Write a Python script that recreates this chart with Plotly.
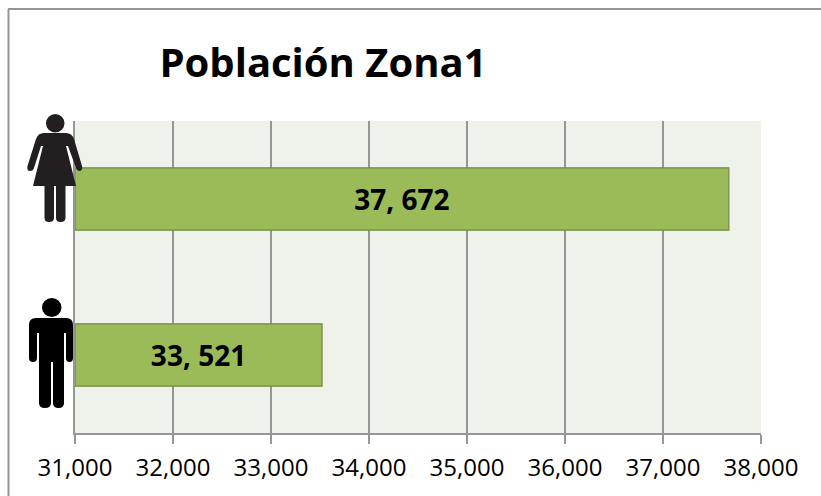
import plotly.graph_objects as go

W, H = 821, 496
L, R, T, B = 75, 60, 121, 63

categories = ["Hombres", "Mujeres"]
values = [33521, 37672]
value_labels = ["33, 521", "37, 672"]
axis_min = 31000
axis_max = 38000
tick_values = [31000, 32000, 33000, 34000, 35000, 36000, 37000, 38000]
tick_labels = ["31,000", "32,000", "33,000", "34,000", "35,000", "36,000", "37,000", "38,000"]
title_text = "Población Zona1"

GRAY = "#969696"
FONT = "Open Sans, sans-serif"


def px(x):
    return (x - L) / (W - L - R)


def py(y):
    return (H - B - y) / (H - T - B)


def path(points):
    out = []
    for p in points:
        cmd, coords = p[0], p[1:]
        vals = []
        for i in range(0, len(coords), 2):
            vals.append(f"{px(coords[i]):.5f},{py(coords[i + 1]):.5f}")
        out.append(cmd + " " + " ".join(vals))
    return " ".join(out) + " Z"


woman = [("M", 44, 133), ("L", 66, 133), ("Q", 72, 133, 74, 139), ("L", 82, 166), ("Q", 83, 171, 79, 171),
         ("Q", 77, 171, 76, 168), ("L", 68, 146), ("L", 66, 146), ("L", 76, 186), ("L", 65.5, 186),
         ("L", 65.5, 218), ("Q", 65.5, 222, 60.5, 222), ("Q", 56, 222, 56, 218), ("L", 56, 186), ("L", 54, 186),
         ("L", 54, 218), ("Q", 54, 222, 49, 222), ("Q", 44.5, 222, 44.5, 218), ("L", 44.5, 186), ("L", 33, 186),
         ("L", 43, 146), ("L", 41, 146), ("L", 34, 168), ("Q", 33, 171, 30, 171), ("Q", 26.5, 171, 27.5, 166),
         ("L", 36, 139), ("Q", 38, 133, 44, 133)]
man = [("M", 36, 318), ("L", 66, 318), ("Q", 73, 318, 73, 325), ("L", 73, 358), ("Q", 73, 362, 69.5, 362),
       ("Q", 66, 362, 66, 358), ("L", 66, 333), ("L", 64, 333), ("L", 64, 403), ("Q", 64, 408, 58.5, 408),
       ("Q", 53, 408, 53, 403), ("L", 53, 362), ("L", 51, 362), ("L", 51, 403), ("Q", 51, 408, 45, 408),
       ("Q", 39, 408, 39, 403), ("L", 39, 333), ("L", 37, 333), ("L", 37, 358), ("Q", 37, 362, 33, 362),
       ("Q", 29, 362, 29, 358), ("L", 29, 325), ("Q", 29, 318, 36, 318)]

shapes = [
    dict(type="line", xref="paper", yref="paper", x0=px(8.5), x1=px(8.5), y0=py(9), y1=py(496),
         line=dict(color=GRAY, width=2)),
    dict(type="line", xref="paper", yref="paper", x0=px(8), x1=px(821), y0=py(9), y1=py(9),
         line=dict(color=GRAY, width=2)),
    dict(type="path", xref="paper", yref="paper", path=path(woman), fillcolor="#231f20", line=dict(width=0)),
    dict(type="circle", xref="paper", yref="paper", x0=px(46), x1=px(64.5), y0=py(114), y1=py(132.5),
         fillcolor="#231f20", line=dict(width=0)),
    dict(type="path", xref="paper", yref="paper", path=path(man), fillcolor="#000000", line=dict(width=0)),
    dict(type="circle", xref="paper", yref="paper", x0=px(42), x1=px(61.5), y0=py(298), y1=py(317),
         fillcolor="#000000", line=dict(width=0)),
]

fig = go.Figure(go.Bar(
    y=categories,
    x=[v - axis_min for v in values],
    base=[axis_min] * len(values),
    orientation="h",
    width=0.40,
    marker=dict(color="#9bbb59", line=dict(color="#71893f", width=1.2)),
    text=value_labels,
    textposition="inside",
    insidetextanchor="middle",
    textangle=0,
    textfont=dict(family=FONT, size=28, color="black", weight="bold"),
    hoverinfo="skip",
))

fig.update_layout(
    width=W,
    height=H,
    autosize=False,
    margin=dict(l=L, r=R, t=T, b=B, pad=0),
    paper_bgcolor="white",
    plot_bgcolor="#eff2ea",
    showlegend=False,
    shapes=shapes,
    title=dict(text=f"<b>{title_text}</b>", x=323 / W, xanchor="center", xref="container",
               y=1 - 63 / H, yanchor="middle", yref="container",
               font=dict(family=FONT, size=40, color="black")),
    xaxis=dict(
        range=[axis_min, axis_max],
        tickmode="array",
        tickvals=tick_values,
        ticktext=tick_labels,
        ticks="outside",
        ticklen=9,
        tickwidth=2,
        tickcolor=GRAY,
        showgrid=True,
        gridcolor=GRAY,
        gridwidth=2,
        showline=True,
        linecolor=GRAY,
        linewidth=2,
        zeroline=False,
        ticklabelstandoff=3,
        tickfont=dict(family=FONT, size=24, color="black"),
    ),
    yaxis=dict(
        categoryorder="array",
        categoryarray=categories,
        showticklabels=False,
        ticks="",
        showgrid=False,
        showline=True,
        linecolor=GRAY,
        linewidth=2,
        zeroline=False,
    ),
)

fig.write_html("out.html", post_script="document.body.style.margin='0';", config={"displayModeBar": False})
